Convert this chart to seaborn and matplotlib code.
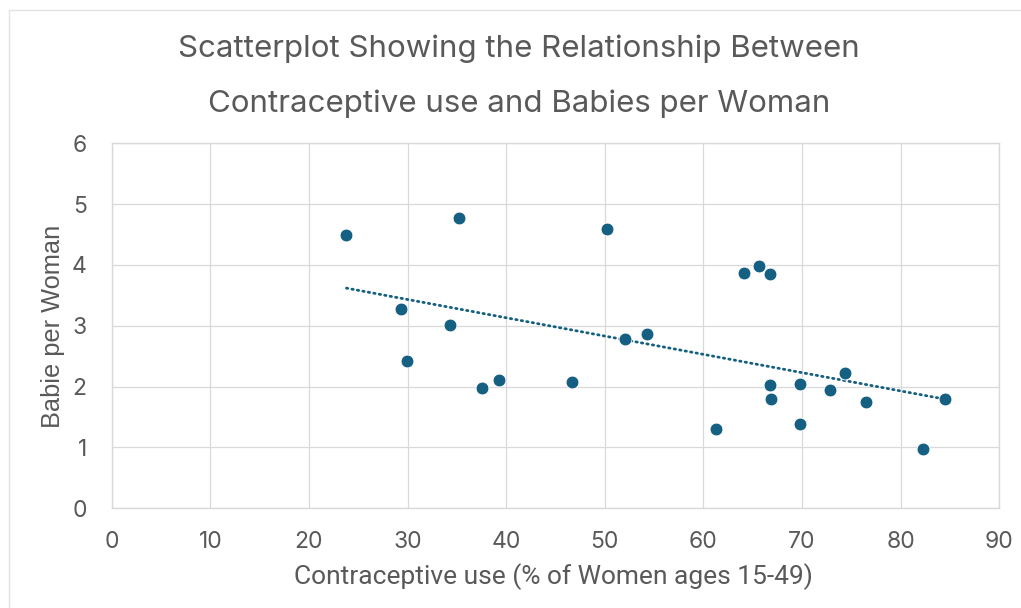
import numpy as np
import pandas as pd
import matplotlib
matplotlib.use("Agg")
import matplotlib.pyplot as plt
from matplotlib.patches import Rectangle
import seaborn as sns

# Contraceptive use (% of women ages 15-49) and babies per woman
contraceptive_use = [23.8, 35.2, 29.3, 34.3, 29.9, 39.3, 37.5,
                     50.2, 46.7, 52.0, 54.3, 64.1, 65.6, 66.8,
                     61.3, 66.7, 66.9, 69.8, 69.8, 72.8, 74.4,
                     76.5, 82.3, 84.5]
babies_per_woman = [4.49, 4.77, 3.28, 3.01, 2.42, 2.11, 1.97,
                    4.59, 2.08, 2.79, 2.87, 3.86, 3.99, 3.85,
                    1.31, 2.02, 1.80, 2.04, 1.39, 1.94, 2.22,
                    1.75, 0.97, 1.80]

x_ticks = list(range(0, 100, 10))
y_ticks = list(range(0, 7))

title_lines = ["Scatterplot Showing the Relationship Between",
               "Contraceptive use and Babies per Woman"]
x_label = "Contraceptive use (% of Women ages 15-49)"
y_label = "Babie per Woman"

df = pd.DataFrame({"use": contraceptive_use, "babies": babies_per_woman})

sns.set_theme(style="white")
plt.rcParams["font.family"] = ["Inter", "DejaVu Sans"]

TEXT = "#595959"
GRID = "#d9d9d9"
MARK = "#156082"

W, H = 1021, 608
fig = plt.figure(figsize=(W / 100, H / 100), dpi=100)
fig.patch.set_facecolor("white")

# outer chart frame
fig.patches.append(Rectangle((9 / W, -0.1), 1.2, (H - 10) / H + 0.1,
                             transform=fig.transFigure, fill=False,
                             edgecolor="#e3e3e3", linewidth=1.0))

ax = fig.add_axes([111.7 / W, (H - 508.3) / H, 887.6 / W, 365.0 / H])

sns.regplot(data=df, x="use", y="babies", ax=ax, scatter=False, ci=None,
            line_kws=dict(color=MARK, linewidth=2.0, linestyle=(0, (0.5, 1.5)),
                          dash_capstyle="round", zorder=2))
sns.scatterplot(data=df, x="use", y="babies", ax=ax, color=MARK, s=85,
                edgecolor="white", linewidth=0.6, zorder=3)

ax.set_xlim(0, 90)
ax.set_ylim(0, 6)
ax.set_xticks(x_ticks)
ax.set_yticks(y_ticks)
ax.grid(True, color=GRID, linewidth=0.9)
ax.set_axisbelow(True)
for side in ax.spines.values():
    side.set_color(GRID)
    side.set_linewidth(1.0)
ax.tick_params(axis="both", length=0, colors=TEXT, labelsize=16.5)
ax.tick_params(axis="x", pad=16)
ax.tick_params(axis="y", pad=18)
ax.set_xlabel("")
ax.set_ylabel("")

fig.text(519 / W, (H - 57.3) / H, title_lines[0], ha="center", va="baseline",
         fontsize=22.5, color=TEXT)
fig.text(519 / W, (H - 111.7) / H, title_lines[1], ha="center", va="baseline",
         fontsize=22.5, color=TEXT)
fig.text(553 / W, (H - 584) / H, x_label, ha="center", va="baseline",
         fontsize=19, color=TEXT, family=["Roboto", "DejaVu Sans"])
fig.text(53 / W, (H - 326) / H, y_label, ha="center", va="center",
         rotation=90, fontsize=18.3, color=TEXT,
         family=["Liberation Sans", "DejaVu Sans"])

fig.savefig("out.png", dpi=100, facecolor="white")
